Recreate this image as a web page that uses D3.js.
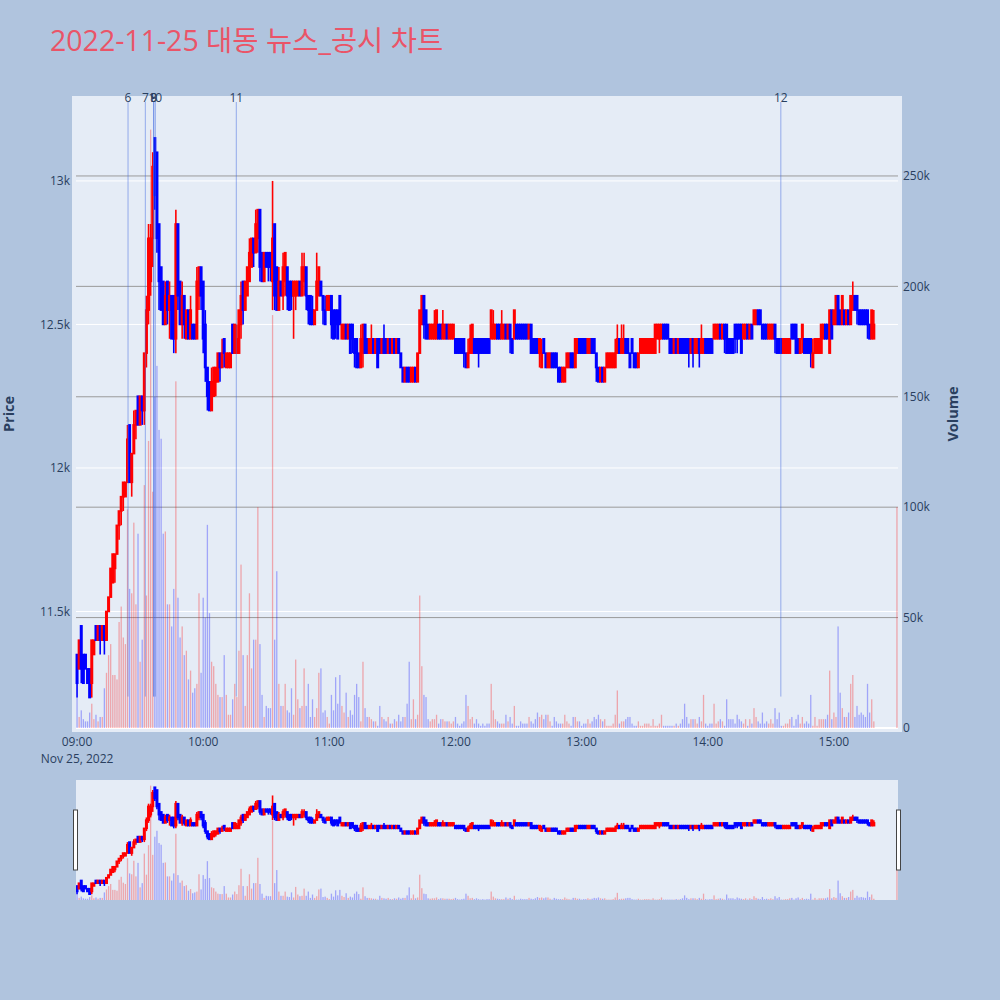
<!DOCTYPE html>
<html><head><meta charset="utf-8">
<script src="https://cdn.jsdelivr.net/npm/d3@7"></script>
<style>html,body{margin:0;padding:0;background:#b0c4de}svg{display:block}</style>
</head><body>
<svg id="c" width="1000" height="1000"></svg>
<script>
const chartTitle = "2022-11-25 대동 뉴스_공시 차트";
const tradeDate = "2022-11-25";
const times = [
"09:00","09:01","09:02","09:03","09:04","09:05","09:06","09:07","09:08","09:09","09:10","09:11","09:12","09:13","09:14","09:15","09:16","09:17","09:18","09:19","09:20","09:21","09:22","09:23","09:24","09:25","09:26","09:27","09:28","09:29","09:30","09:31","09:32","09:33","09:34","09:35","09:36","09:37","09:38","09:39","09:40","09:41","09:42","09:43","09:44","09:45","09:46","09:47","09:48","09:49","09:50","09:51","09:52","09:53","09:54","09:55","09:56","09:57","09:58","09:59",
"10:00","10:01","10:02","10:03","10:04","10:05","10:06","10:07","10:08","10:09","10:10","10:11","10:12","10:13","10:14","10:15","10:16","10:17","10:18","10:19","10:20","10:21","10:22","10:23","10:24","10:25","10:26","10:27","10:28","10:29","10:30","10:31","10:32","10:33","10:34","10:35","10:36","10:37","10:38","10:39","10:40","10:41","10:42","10:43","10:44","10:45","10:46","10:47","10:48","10:49","10:50","10:51","10:52","10:53","10:54","10:55","10:56","10:57","10:58","10:59",
"11:00","11:01","11:02","11:03","11:04","11:05","11:06","11:07","11:08","11:09","11:10","11:11","11:12","11:13","11:14","11:15","11:16","11:17","11:18","11:19","11:20","11:21","11:22","11:23","11:24","11:25","11:26","11:27","11:28","11:29","11:30","11:31","11:32","11:33","11:34","11:35","11:36","11:37","11:38","11:39","11:40","11:41","11:42","11:43","11:44","11:45","11:46","11:47","11:48","11:49","11:50","11:51","11:52","11:53","11:54","11:55","11:56","11:57","11:58","11:59",
"12:00","12:01","12:02","12:03","12:04","12:05","12:06","12:07","12:08","12:09","12:10","12:11","12:12","12:13","12:14","12:15","12:16","12:17","12:18","12:19","12:20","12:21","12:22","12:23","12:24","12:25","12:26","12:27","12:28","12:29","12:30","12:31","12:32","12:33","12:34","12:35","12:36","12:37","12:38","12:39","12:40","12:41","12:42","12:43","12:44","12:45","12:46","12:47","12:48","12:49","12:50","12:51","12:52","12:53","12:54","12:55","12:56","12:57","12:58","12:59",
"13:00","13:01","13:02","13:03","13:04","13:05","13:06","13:07","13:08","13:09","13:10","13:11","13:12","13:13","13:14","13:15","13:16","13:17","13:18","13:19","13:20","13:21","13:22","13:23","13:24","13:25","13:26","13:27","13:28","13:29","13:30","13:31","13:32","13:33","13:34","13:35","13:36","13:37","13:38","13:39","13:40","13:41","13:42","13:43","13:44","13:45","13:46","13:47","13:48","13:49","13:50","13:51","13:52","13:53","13:54","13:55","13:56","13:57","13:58","13:59",
"14:00","14:01","14:02","14:03","14:04","14:05","14:06","14:07","14:08","14:09","14:10","14:11","14:12","14:13","14:14","14:15","14:16","14:17","14:18","14:19","14:20","14:21","14:22","14:23","14:24","14:25","14:26","14:27","14:28","14:29","14:30","14:31","14:32","14:33","14:34","14:35","14:36","14:37","14:38","14:39","14:40","14:41","14:42","14:43","14:44","14:45","14:46","14:47","14:48","14:49","14:50","14:51","14:52","14:53","14:54","14:55","14:56","14:57","14:58","14:59",
"15:00","15:01","15:02","15:03","15:04","15:05","15:06","15:07","15:08","15:09","15:10","15:11","15:12","15:13","15:14","15:15","15:16","15:17","15:18","15:19","15:30"];

const open = [
11350,11300,11450,11350,11350,11300,11300,11250,11350,11450,
11400,11450,11400,11450,11400,11500,11550,11600,11650,11700,
11800,11850,11900,11900,11950,12150,11950,12050,12150,12250,
12150,12250,12200,12400,12550,12650,12800,13150,13100,12850,
12700,12650,12500,12650,12550,12600,12600,12450,12850,12650,
12500,12600,12450,12550,12450,12500,12500,12450,12600,12700,
12650,12500,12350,12300,12200,12250,12300,12300,12400,12350,
12450,12350,12350,12350,12500,12400,12400,12400,12500,12650,
12550,12600,12650,12700,12800,12750,12800,12900,12750,12650,
12750,12750,12750,12650,12850,12700,12550,12650,12600,12650,
12700,12650,12650,12600,12600,12600,12650,12600,12650,12700,
12600,12600,12550,12500,12550,12600,12650,12600,12550,12550,
12550,12600,12550,12550,12550,12600,12450,12450,12500,12450,
12500,12500,12450,12450,12400,12350,12400,12500,12450,12400,
12400,12450,12400,12450,12450,12400,12450,12450,12400,12450,
12400,12450,12400,12450,12400,12350,12300,12350,12350,12300,
12300,12350,12300,12400,12500,12600,12550,12500,12450,12450,
12450,12450,12500,12500,12450,12450,12500,12450,12450,12450,
12450,12450,12450,12450,12450,12400,12350,12400,12400,12450,
12450,12450,12450,12450,12450,12450,12450,12450,12450,12450,
12500,12500,12450,12450,12500,12450,12500,12450,12450,12500,
12500,12500,12500,12500,12500,12450,12500,12450,12450,12450,
12400,12350,12450,12400,12350,12350,12400,12400,12400,12350,
12350,12300,12300,12350,12350,12400,12400,12350,12400,12450,
12450,12450,12450,12400,12400,12450,12450,12400,12350,12300,
12350,12300,12350,12350,12350,12350,12350,12400,12450,12400,
12400,12450,12450,12400,12450,12400,12400,12350,12400,12400,
12400,12400,12400,12400,12400,12400,12450,12450,12450,12500,
12500,12500,12450,12450,12400,12450,12400,12450,12450,12450,
12450,12450,12400,12450,12400,12400,12450,12400,12400,12450,
12450,12450,12450,12450,12450,12450,12500,12450,12500,12500,
12450,12450,12450,12500,12500,12500,12500,12450,12450,12500,
12450,12500,12500,12500,12550,12550,12500,12500,12500,12450,
12450,12450,12500,12450,12450,12450,12400,12400,12400,12400,
12500,12500,12500,12450,12400,12450,12450,12450,12450,12450,
12350,12400,12400,12400,12400,12450,12500,12500,12400,12550,
12500,12500,12600,12550,12500,12550,12500,12550,12500,12550,
12600,12600,12550,12550,12550,12550,12550,12500,12450,12450,
12600];

const high = [
11350,11400,11450,11350,11350,11300,11300,11400,11400,11450,
11450,11450,11450,11450,11500,11550,11650,11700,11700,11800,
11850,11900,11950,11950,12150,12150,12050,12200,12200,12250,
12250,12250,12400,12600,12850,12850,13100,13150,13100,12850,
12700,12650,12650,12650,12650,12600,12600,12900,12850,12650,
12650,12600,12550,12550,12600,12500,12500,12700,12700,12700,
12650,12550,12350,12300,12350,12350,12350,12400,12400,12450,
12450,12400,12400,12400,12500,12500,12500,12550,12650,12650,
12650,12700,12800,12800,12800,12900,12900,12900,12750,12750,
12750,12750,12750,13000,12850,12700,12700,12650,12750,12750,
12700,12650,12650,12650,12650,12650,12650,12750,12750,12700,
12600,12600,12600,12550,12750,12700,12650,12600,12600,12600,
12600,12600,12550,12550,12550,12600,12500,12500,12500,12500,
12500,12500,12450,12450,12400,12500,12500,12500,12450,12450,
12500,12450,12450,12450,12450,12450,12500,12450,12450,12450,
12450,12450,12450,12450,12400,12350,12350,12350,12350,12350,
12350,12350,12400,12550,12600,12600,12550,12500,12500,12500,
12550,12550,12500,12500,12550,12500,12500,12500,12500,12500,
12450,12450,12450,12450,12450,12400,12450,12500,12500,12450,
12450,12450,12450,12450,12450,12450,12450,12550,12550,12500,
12500,12500,12550,12500,12500,12500,12500,12450,12550,12500,
12500,12500,12500,12500,12500,12500,12500,12450,12450,12450,
12450,12450,12450,12400,12400,12400,12400,12400,12400,12350,
12350,12350,12350,12400,12400,12400,12400,12450,12450,12450,
12450,12450,12450,12450,12450,12450,12450,12400,12350,12350,
12350,12350,12400,12400,12400,12400,12450,12500,12450,12500,
12500,12450,12450,12400,12450,12400,12400,12400,12450,12450,
12450,12450,12450,12450,12450,12500,12500,12500,12500,12500,
12500,12500,12450,12450,12450,12450,12450,12450,12450,12450,
12450,12450,12450,12450,12450,12450,12450,12500,12450,12450,
12450,12450,12450,12500,12500,12500,12500,12500,12500,12500,
12450,12450,12450,12500,12500,12500,12500,12500,12500,12500,
12500,12500,12550,12550,12550,12550,12500,12500,12500,12500,
12500,12500,12500,12450,12450,12450,12450,12450,12450,12450,
12500,12500,12500,12450,12450,12500,12450,12450,12450,12450,
12450,12450,12450,12450,12500,12500,12500,12500,12550,12550,
12550,12600,12600,12550,12600,12550,12550,12550,12600,12650,
12600,12600,12550,12550,12550,12550,12550,12500,12550,12550,
12600];

const low = [
11200,11300,11250,11250,11300,11250,11200,11200,11350,11400,
11400,11350,11400,11350,11400,11500,11550,11600,11600,11700,
11750,11800,11850,11900,11950,11950,11900,12050,12100,12150,
12150,12150,12150,12350,12500,12600,12700,12900,12750,12550,
12550,12500,12500,12500,12450,12450,12400,12400,12550,12500,
12450,12450,12450,12450,12450,12450,12450,12450,12550,12550,
12400,12300,12200,12200,12200,12250,12250,12300,12300,12350,
12350,12350,12350,12350,12400,12400,12400,12400,12450,12500,
12550,12600,12650,12700,12700,12750,12750,12650,12650,12650,
12700,12650,12650,12550,12550,12550,12550,12600,12550,12600,
12550,12550,12550,12450,12550,12600,12600,12600,12600,12550,
12500,12500,12500,12500,12550,12600,12600,12500,12500,12550,
12550,12450,12450,12450,12450,12500,12450,12450,12450,12450,
12400,12400,12350,12350,12350,12350,12350,12400,12400,12400,
12400,12400,12400,12350,12400,12400,12400,12400,12400,12400,
12400,12400,12400,12400,12350,12300,12300,12300,12300,12300,
12300,12300,12300,12400,12500,12450,12450,12450,12450,12450,
12450,12450,12450,12450,12450,12450,12450,12450,12450,12450,
12400,12400,12400,12400,12350,12350,12350,12400,12400,12400,
12400,12350,12400,12400,12400,12400,12400,12450,12450,12450,
12450,12450,12450,12450,12450,12450,12400,12400,12450,12450,
12450,12450,12450,12450,12450,12450,12400,12400,12400,12400,
12350,12350,12400,12350,12350,12350,12350,12350,12350,12300,
12300,12300,12300,12350,12350,12350,12350,12350,12400,12400,
12400,12400,12400,12400,12400,12400,12400,12300,12300,12300,
12300,12300,12350,12350,12350,12350,12350,12400,12400,12400,
12400,12400,12400,12350,12400,12350,12350,12350,12400,12400,
12400,12400,12400,12400,12400,12400,12450,12400,12450,12450,
12450,12450,12400,12400,12400,12400,12400,12400,12400,12400,
12400,12350,12400,12350,12400,12400,12350,12400,12400,12400,
12400,12400,12400,12450,12450,12450,12450,12450,12400,12400,
12400,12400,12400,12400,12400,12450,12400,12450,12450,12450,
12450,12450,12500,12500,12500,12500,12450,12450,12450,12450,
12450,12450,12400,12400,12400,12400,12400,12400,12400,12400,
12450,12450,12400,12400,12400,12400,12400,12400,12400,12350,
12350,12400,12400,12400,12400,12450,12450,12450,12400,12450,
12500,12500,12500,12500,12500,12500,12500,12500,12500,12550,
12550,12500,12500,12500,12500,12500,12450,12450,12450,12450,
12600];

const close = [
11250,11400,11300,11250,11300,11250,11200,11400,11400,11400,
11450,11400,11450,11400,11500,11550,11650,11700,11700,11800,
11850,11900,11950,11950,12100,11950,12050,12150,12200,12150,
12250,12200,12400,12550,12800,12800,13050,12950,12800,12650,
12550,12500,12600,12550,12600,12450,12450,12850,12600,12500,
12600,12500,12550,12450,12550,12450,12450,12650,12700,12600,
12450,12350,12250,12200,12300,12350,12350,12400,12350,12400,
12400,12400,12400,12400,12400,12500,12450,12550,12600,12550,
12650,12700,12750,12800,12750,12850,12900,12700,12650,12750,
12700,12700,12700,12800,12600,12550,12650,12600,12700,12750,
12600,12550,12600,12650,12650,12650,12600,12700,12700,12600,
12550,12500,12500,12550,12650,12700,12600,12550,12500,12600,
12600,12500,12450,12500,12450,12500,12500,12500,12450,12500,
12400,12450,12400,12350,12350,12450,12500,12400,12400,12450,
12450,12400,12450,12350,12400,12450,12400,12400,12450,12400,
12450,12400,12450,12400,12350,12300,12350,12300,12300,12350,
12350,12300,12400,12550,12600,12500,12450,12450,12500,12500,
12500,12550,12450,12450,12500,12500,12450,12500,12500,12500,
12400,12400,12400,12400,12400,12350,12400,12450,12500,12400,
12400,12400,12400,12400,12400,12400,12400,12550,12500,12500,
12450,12450,12500,12500,12450,12500,12450,12400,12550,12450,
12450,12450,12450,12450,12450,12500,12400,12400,12400,12400,
12450,12400,12400,12350,12400,12400,12350,12350,12350,12300,
12300,12350,12350,12400,12400,12350,12350,12450,12450,12400,
12400,12400,12400,12450,12450,12400,12400,12350,12300,12350,
12300,12350,12400,12400,12400,12400,12400,12450,12400,12450,
12450,12400,12400,12350,12400,12350,12350,12400,12450,12450,
12450,12450,12450,12450,12450,12500,12500,12500,12500,12450,
12450,12450,12400,12400,12450,12400,12450,12400,12400,12400,
12400,12400,12450,12400,12450,12450,12400,12450,12450,12400,
12400,12400,12400,12500,12500,12500,12450,12500,12450,12400,
12400,12400,12400,12450,12450,12450,12400,12500,12500,12450,
12500,12450,12550,12550,12500,12500,12450,12450,12450,12500,
12500,12500,12450,12400,12400,12400,12450,12450,12450,12450,
12450,12450,12400,12400,12450,12500,12400,12400,12400,12400,
12400,12450,12450,12450,12500,12500,12450,12450,12550,12450,
12550,12600,12500,12500,12600,12500,12550,12500,12600,12600,
12550,12550,12500,12500,12500,12500,12500,12450,12550,12500,
12600];

// volume, thousands of shares
const volumeK = [
14,5,8,4,3,3,7,11,4,6,
3,5,5,18,25,33,38,24,24,22,
48,55,41,38,99,63,61,93,56,88,
30,40,110,60,130,271,107,150,164,135,
131,88,89,56,56,46,63,157,59,41,
46,33,35,22,26,16,18,20,61,25,
59,50,92,52,30,28,20,15,14,14,
33,15,6,6,13,20,14,35,74,33,
10,33,61,27,40,40,100,38,15,5,
10,9,9,187,40,71,20,10,10,20,
8,7,18,6,31,13,9,10,27,10,
20,5,13,5,9,25,27,7,8,5,
2,15,8,23,11,24,10,7,16,5,
8,6,15,20,14,3,30,9,5,5,
4,3,3,1,10,5,4,3,5,2,
2,4,3,6,3,5,5,11,30,4,
13,4,6,60,28,15,14,4,3,4,
4,6,2,4,4,3,3,3,2,3,
5,2,1,2,3,15,10,4,5,2,
4,2,1,2,1,2,2,20,8,4,
3,2,2,2,6,3,5,2,10,1,
1,3,2,2,2,5,3,2,4,7,
5,6,4,6,6,3,1,5,3,2,
2,2,6,3,2,1,5,5,3,3,
1,2,2,4,2,3,5,4,6,4,
3,4,1,1,1,2,6,17,2,3,
3,4,5,5,2,1,1,3,1,1,
2,2,2,1,4,1,1,2,6,1,
1,1,1,1,1,2,1,2,4,11,
5,2,4,4,4,2,5,3,15,2,
1,2,2,11,2,3,4,3,1,13,
4,4,4,2,6,4,3,2,4,1,
4,2,9,5,3,2,7,2,3,2,
4,2,9,4,7,1,1,2,2,4,
5,1,4,6,2,5,2,3,2,15,
1,5,1,4,4,4,4,6,26,4,
7,5,46,16,9,5,5,7,20,24,
5,10,6,7,6,5,20,7,13,3,
100];

const newsTimes  = ["09:24:15","09:32:29","09:36:25","09:36:30","09:37:14","10:15:45","14:34:46"];
const newsLabels = ["6","7","8","9","10","11","12"];

const priceTicks = [11500,12000,12500,13000];
const priceTickLabels = ["11.5k","12k","12.5k","13k"];
const volTicks = [0,50,100,150,200,250];
const volTickLabels = ["0","50k","100k","150k","200k","250k"];
const hourTicks = ["09:00","10:00","11:00","12:00","13:00","14:00","15:00"];
const dateLabel = "Nov 25, 2022";

const priceRange = [11094,13282];
const volRange = [0,284.4];
const xRange = ["08:59:30","15:30:30"];

// ---------- drawing ----------
const FONT = "'Open Sans','Noto Sans CJK KR',sans-serif";
const INK = "#2a3f5f";
const UP = "#ff0000", DOWN = "#0000ff";
const parse = d3.timeParse("%Y-%m-%d %H:%M:%S");
const toDate = s => parse(`${tradeDate} ${s.length===5 ? s+":00" : s}`);

const rows = times.map((t,i)=>({t:toDate(t),o:open[i],h:high[i],l:low[i],c:close[i],v:volumeK[i]}));
rows.forEach((d,i)=>{ d.up = d.c>d.o || (d.c===d.o && i>0 && d.c>=rows[i-1].c); });

const M = {left:76,right:898,top:100,bottom:728};
const S = {top:780,bottom:900};

const x  = d3.scaleTime().domain(xRange.map(toDate)).range([M.left,M.right]);
const yP = d3.scaleLinear().domain(priceRange).range([M.bottom,M.top]);
const yV = d3.scaleLinear().domain(volRange).range([M.bottom,M.top]);
const yPs = yP.copy().range([S.bottom,S.top]);
const yVs = yV.copy().range([S.bottom,S.top]);

const svg = d3.select("#c");
svg.append("rect").attr("width",1000).attr("height",1000).attr("fill","#b0c4de");

// title
svg.append("text").attr("x",50).attr("y",51).attr("fill","#ea5468")
  .attr("font-family",FONT).attr("font-size",28.5).text(chartTitle);

// main plot background
svg.append("rect").attr("x",M.left-4).attr("y",M.top-4)
  .attr("width",M.right-M.left+8).attr("height",M.bottom-M.top+8).attr("fill","#e5ecf6");

const defs = svg.append("defs");
defs.append("clipPath").attr("id","clipMain").append("rect")
  .attr("x",M.left-4).attr("y",M.top-4).attr("width",M.right-M.left+8).attr("height",M.bottom-M.top+8);
defs.append("clipPath").attr("id","clipSlider").append("rect")
  .attr("x",M.left).attr("y",S.top).attr("width",M.right-M.left).attr("height",S.bottom-S.top);

// price grid (white)
svg.append("g").selectAll("line").data(priceTicks).join("line")
  .attr("x1",M.left).attr("x2",M.right).attr("y1",d=>yP(d)).attr("y2",d=>yP(d))
  .attr("stroke","#ffffff").attr("stroke-width",1);
// volume grid (gray)
svg.append("g").selectAll("line").data(volTicks.filter(v=>v>0)).join("line")
  .attr("x1",M.left).attr("x2",M.right).attr("y1",d=>yV(d)).attr("y2",d=>yV(d))
  .attr("stroke","#9a9a9a").attr("stroke-width",1);
// volume zero line
svg.append("line").attr("x1",M.left).attr("x2",M.right).attr("y1",yV(0)).attr("y2",yV(0))
  .attr("stroke","#ffffff").attr("stroke-width",2);

function drawSeries(g, yPrice, yVol){
  g.append("g").selectAll("rect").data(rows).join("rect")
    .attr("x",d=>x(d.t)-0.65).attr("width",1.3)
    .attr("y",d=>yVol(d.v)).attr("height",d=>yVol(0)-yVol(d.v))
    .attr("fill",d=>d.up?UP:DOWN).attr("fill-opacity",0.3);
  const cg = g.append("g").selectAll("g").data(rows).join("g");
  cg.append("line")
    .attr("x1",d=>x(d.t)).attr("x2",d=>x(d.t))
    .attr("y1",d=>yPrice(d.h)).attr("y2",d=>yPrice(d.l))
    .attr("stroke",d=>d.up?UP:DOWN).attr("stroke-width",1.6);
  cg.append("rect")
    .attr("x",d=>x(d.t)-0.7).attr("width",1.4)
    .attr("y",d=>yPrice(Math.max(d.o,d.c)))
    .attr("height",d=>Math.abs(yPrice(d.o)-yPrice(d.c)))
    .attr("fill",d=>d.up?UP:DOWN).attr("stroke",d=>d.up?UP:DOWN).attr("stroke-width",1.6);
}

drawSeries(svg.append("g").attr("clip-path","url(#clipMain)"), yP, yV);

// news lines
const lowest = d3.min(rows,d=>d.l);
const ng = svg.append("g");
ng.selectAll("line").data(newsTimes).join("line")
  .attr("x1",d=>x(toDate(d))).attr("x2",d=>x(toDate(d)))
  .attr("y1",M.top+2).attr("y2",yP(lowest)-1)
  .attr("stroke","royalblue").attr("stroke-opacity",0.5).attr("stroke-width",1);
ng.selectAll("text").data(newsTimes).join("text")
  .attr("x",d=>x(toDate(d))).attr("y",M.top+1.5).attr("text-anchor","middle")
  .attr("font-family",FONT).attr("font-size",12).attr("fill",INK)
  .text((d,i)=>newsLabels[i]);

// left axis labels
svg.append("g").selectAll("text").data(priceTicks).join("text")
  .attr("x",M.left-6).attr("y",d=>yP(d)).attr("dy","0.35em").attr("text-anchor","end")
  .attr("font-family",FONT).attr("font-size",12).attr("fill",INK)
  .text((d,i)=>priceTickLabels[i]);
// right axis labels
svg.append("g").selectAll("text").data(volTicks).join("text")
  .attr("x",M.right+5).attr("y",d=>yV(d)).attr("dy","0.35em").attr("text-anchor","start")
  .attr("font-family",FONT).attr("font-size",12).attr("fill",INK)
  .text((d,i)=>volTickLabels[i]);
// x axis labels
svg.append("g").selectAll("text").data(hourTicks).join("text")
  .attr("x",d=>x(toDate(d))).attr("y",746).attr("text-anchor","middle")
  .attr("font-family",FONT).attr("font-size",12).attr("fill",INK).text(d=>d);
svg.append("text").attr("x",x(toDate(hourTicks[0]))).attr("y",763).attr("text-anchor","middle")
  .attr("font-family",FONT).attr("font-size",12).attr("fill",INK).text(dateLabel);

// axis titles
svg.append("text").attr("transform",`translate(14,${(M.top+M.bottom)/2}) rotate(-90)`)
  .attr("text-anchor","middle").attr("font-family",FONT).attr("font-size",14.5)
  .attr("font-weight","bold").attr("fill",INK).text("Price");
svg.append("text").attr("transform",`translate(958,${(M.top+M.bottom)/2}) rotate(-90)`)
  .attr("text-anchor","middle").attr("font-family",FONT).attr("font-size",14.5)
  .attr("font-weight","bold").attr("fill",INK).text("Volume");

// range slider
svg.append("rect").attr("x",M.left).attr("y",S.top).attr("width",M.right-M.left)
  .attr("height",S.bottom-S.top).attr("fill","#e5ecf6");
drawSeries(svg.append("g").attr("clip-path","url(#clipSlider)"), yPs, yVs);
[M.left-0.5, M.right+0.5].forEach(hx=>{
  svg.append("rect").attr("x",hx-2).attr("y",S.top+(S.bottom-S.top)/4)
    .attr("width",4).attr("height",(S.bottom-S.top)/2)
    .attr("fill","#ffffff").attr("stroke","#444").attr("stroke-width",1);
});
</script>
</body></html>
